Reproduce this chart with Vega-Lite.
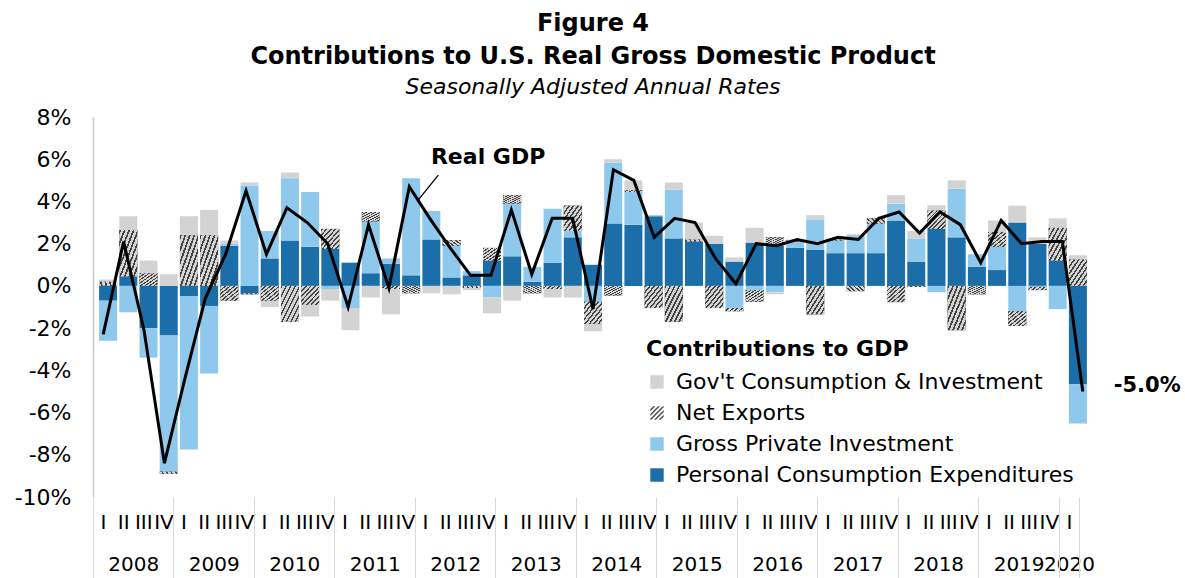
{
  "$schema": "https://vega.github.io/schema/vega-lite/v6.json",
  "width": 1000,
  "height": 380,
  "autosize": "none",
  "padding": {"left": 93, "top": 117, "right": 92, "bottom": 81},
  "background": "white",
  "config": {"font": "DejaVu Sans", "view": {"stroke": null}},
  "title": {
    "text": ["Figure 4", "Contributions to U.S. Real Gross Domestic Product"],
    "subtitle": "Seasonally Adjusted Annual Rates",
    "anchor": "middle",
    "font": "DejaVu Sans",
    "fontSize": 24,
    "fontWeight": "bold",
    "color": "black",
    "lineHeight": 33,
    "subtitleFont": "DejaVu Sans",
    "subtitleFontSize": 22,
    "subtitleFontStyle": "italic",
    "subtitleColor": "black",
    "subtitlePadding": 8,
    "offset": 8
  },
  "datasets": {
    "gdp": [
      {"quarter": 2008.125, "pce": -0.7, "gpi": -1.9, "nx": 0.2, "gov": 0.1, "gdp": -2.3},
      {"quarter": 2008.375, "pce": 0.45, "gpi": -1.25, "nx": 2.2, "gov": 0.65, "gdp": 2.1},
      {"quarter": 2008.625, "pce": -2.0, "gpi": -1.4, "nx": 0.6, "gov": 0.6, "gdp": -2.1},
      {"quarter": 2008.875, "pce": -2.35, "gpi": -6.45, "nx": -0.1, "gov": 0.55, "gdp": -8.4},
      {"quarter": 2009.125, "pce": -0.5, "gpi": -7.25, "nx": 2.4, "gov": 0.9, "gdp": -4.4},
      {"quarter": 2009.375, "pce": -0.95, "gpi": -3.2, "nx": 2.4, "gov": 1.2, "gdp": -0.6},
      {"quarter": 2009.625, "pce": 1.9, "gpi": 0.1, "nx": -0.7, "gov": 0.15, "gdp": 1.5},
      {"quarter": 2009.875, "pce": -0.35, "gpi": 4.75, "nx": -0.05, "gov": 0.15, "gdp": 4.5},
      {"quarter": 2010.125, "pce": 1.3, "gpi": 1.3, "nx": -0.7, "gov": -0.3, "gdp": 1.5},
      {"quarter": 2010.375, "pce": 2.15, "gpi": 2.95, "nx": -1.7, "gov": 0.27, "gdp": 3.7},
      {"quarter": 2010.625, "pce": 1.85, "gpi": 2.6, "nx": -0.9, "gov": -0.55, "gdp": 3.0},
      {"quarter": 2010.875, "pce": 1.75, "gpi": -0.15, "nx": 0.95, "gov": -0.55, "gdp": 2.0},
      {"quarter": 2011.125, "pce": 1.1, "gpi": -1.05, "nx": 0, "gov": -1.05, "gdp": -1.0},
      {"quarter": 2011.375, "pce": 0.6, "gpi": 2.45, "nx": 0.45, "gov": -0.55, "gdp": 2.9},
      {"quarter": 2011.625, "pce": 1.05, "gpi": 0.25, "nx": -0.15, "gov": -1.2, "gdp": -0.1},
      {"quarter": 2011.875, "pce": 0.5, "gpi": 4.6, "nx": -0.35, "gov": 0, "gdp": 4.7},
      {"quarter": 2012.125, "pce": 2.2, "gpi": 1.35, "nx": 0, "gov": -0.35, "gdp": 3.2},
      {"quarter": 2012.375, "pce": 0.4, "gpi": 1.5, "nx": 0.27, "gov": -0.4, "gdp": 1.8},
      {"quarter": 2012.625, "pce": 0.5, "gpi": 0.2, "nx": -0.1, "gov": -0.1, "gdp": 0.5},
      {"quarter": 2012.875, "pce": 1.2, "gpi": -0.55, "nx": 0.6, "gov": -0.75, "gdp": 0.5},
      {"quarter": 2013.125, "pce": 1.4, "gpi": 2.5, "nx": 0.4, "gov": -0.7, "gdp": 3.6},
      {"quarter": 2013.375, "pce": 0.2, "gpi": 0.7, "nx": -0.35, "gov": 0, "gdp": 0.55},
      {"quarter": 2013.625, "pce": 1.1, "gpi": 2.55, "nx": -0.15, "gov": -0.4, "gdp": 3.2},
      {"quarter": 2013.875, "pce": 2.3, "gpi": 0.3, "nx": 1.2, "gov": -0.55, "gdp": 3.2},
      {"quarter": 2014.125, "pce": 1.0, "gpi": -0.75, "nx": -1.05, "gov": -0.35, "gdp": -1.1},
      {"quarter": 2014.375, "pce": 2.95, "gpi": 2.9, "nx": -0.45, "gov": 0.15, "gdp": 5.5},
      {"quarter": 2014.625, "pce": 2.9, "gpi": 1.55, "nx": 0.08, "gov": 0.47, "gdp": 5.0},
      {"quarter": 2014.875, "pce": 3.3, "gpi": 0.05, "nx": -1.05, "gov": 0, "gdp": 2.3},
      {"quarter": 2015.125, "pce": 2.25, "gpi": 2.3, "nx": -1.7, "gov": 0.35, "gdp": 3.2},
      {"quarter": 2015.375, "pce": 2.1, "gpi": 0, "nx": 0.1, "gov": 0.8, "gdp": 3.0},
      {"quarter": 2015.625, "pce": 2.0, "gpi": 0, "nx": -1.05, "gov": 0.37, "gdp": 1.3},
      {"quarter": 2015.875, "pce": 1.15, "gpi": -1.05, "nx": -0.15, "gov": 0.2, "gdp": 0.1},
      {"quarter": 2016.125, "pce": 2.05, "gpi": -0.2, "nx": -0.55, "gov": 0.7, "gdp": 2.0},
      {"quarter": 2016.375, "pce": 1.9, "gpi": -0.3, "nx": 0.4, "gov": -0.1, "gdp": 1.9},
      {"quarter": 2016.625, "pce": 1.8, "gpi": 0.3, "nx": 0.05, "gov": 0.05, "gdp": 2.2},
      {"quarter": 2016.875, "pce": 1.7, "gpi": 1.45, "nx": -1.35, "gov": 0.2, "gdp": 2.0},
      {"quarter": 2017.125, "pce": 1.55, "gpi": 0.6, "nx": 0.05, "gov": 0.05, "gdp": 2.3},
      {"quarter": 2017.375, "pce": 1.55, "gpi": 0.85, "nx": -0.25, "gov": 0.05, "gdp": 2.2},
      {"quarter": 2017.625, "pce": 1.55, "gpi": 1.4, "nx": 0.25, "gov": 0, "gdp": 3.2},
      {"quarter": 2017.875, "pce": 3.1, "gpi": 0.8, "nx": -0.77, "gov": 0.4, "gdp": 3.5},
      {"quarter": 2018.125, "pce": 1.15, "gpi": 1.1, "nx": -0.05, "gov": 0.35, "gdp": 2.5},
      {"quarter": 2018.375, "pce": 2.7, "gpi": -0.3, "nx": 0.87, "gov": 0.25, "gdp": 3.5},
      {"quarter": 2018.625, "pce": 2.3, "gpi": 2.3, "nx": -2.1, "gov": 0.4, "gdp": 2.9},
      {"quarter": 2018.875, "pce": 0.9, "gpi": 0.6, "nx": -0.4, "gov": 0, "gdp": 1.1},
      {"quarter": 2019.125, "pce": 0.75, "gpi": 1.1, "nx": 0.7, "gov": 0.55, "gdp": 3.1},
      {"quarter": 2019.375, "pce": 3.0, "gpi": -1.2, "nx": -0.7, "gov": 0.8, "gdp": 2.0},
      {"quarter": 2019.625, "pce": 2.0, "gpi": -0.05, "nx": -0.15, "gov": 0.3, "gdp": 2.1},
      {"quarter": 2019.875, "pce": 1.2, "gpi": -1.1, "nx": 1.55, "gov": 0.45, "gdp": 2.1},
      {"quarter": 2020.125, "pce": -4.65, "gpi": -1.87, "nx": 1.25, "gov": 0.2, "gdp": -5.0}
    ],
    "components": [
      {"key": "pce", "name": "Personal Consumption Expenditures"},
      {"key": "gpi", "name": "Gross Private Investment"},
      {"key": "nx", "name": "Net Exports"},
      {"key": "gov", "name": "Gov't Consumption & Investment"}
    ]
  },
  "data": {"name": "gdp"},
  "layer": [
    {
      "transform": [
        {"fold": ["pce", "gpi", "nx", "gov"], "as": ["key", "value"]},
        {"lookup": "key", "from": {"data": {"name": "components"}, "key": "key", "fields": ["name"]}},
        {"stack": "value", "groupby": ["quarter"], "as": ["v0", "v1"]}
      ],
      "mark": {"type": "bar", "width": 18},
      "encoding": {
        "x": {"field": "quarter", "type": "quantitative", "scale": {"domain": [2008, 2020.25]}, "axis": null},
        "y": {
          "field": "v0", "type": "quantitative",
          "scale": {"domain": [-10, 8], "nice": false},
          "title": null,
          "axis": {
            "values": [-10, -8, -6, -4, -2, 0, 2, 4, 6, 8],
            "labelExpr": "datum.value + '%'",
            "labelFont": "DejaVu Sans",
            "labelFontSize": 22,
            "labelColor": "black",
            "labelPadding": 22,
            "labelOverlap": false,
            "labelBound": false,
            "ticks": false,
            "grid": false,
            "domainColor": "#c8c8c8",
            "domainWidth": 1.5,
            "title": null
          }
        },
        "y2": {"field": "v1"},
        "color": {
          "field": "name", "type": "nominal",
          "scale": {
            "domain": ["Gov't Consumption & Investment", "Net Exports", "Gross Private Investment", "Personal Consumption Expenditures"],
            "range": ["#d3d3d3", "#4a4a4a", "#8ec9ed", "#1c6ea9"]
          },
          "legend": {
            "orient": "none",
            "legendX": 553,
            "legendY": 222,
            "title": "Contributions to GDP",
            "titleFont": "DejaVu Sans",
            "titleFontSize": 22,
            "titleFontWeight": "bold",
            "titleColor": "black",
            "titlePadding": 10,
            "titleLimit": 600,
            "labelFont": "DejaVu Sans",
            "labelFontSize": 22,
            "labelColor": "black",
            "labelOffset": 8,
            "labelLimit": 600,
            "symbolType": "square",
            "symbolSize": 180,
            "symbolStrokeWidth": 0,
            "rowPadding": 9,
            "padding": 0,
            "encode": {
              "symbols": {
                "update": {
                  "shape": [
                    {"test": "datum.value === 'Net Exports'", "value": "M-1,-0.55L-0.55,-1L-0.25,-1L-1,-0.25ZM-1,0.15L0.15,-1L0.45,-1L-1,0.45ZM-1,0.85L0.85,-1L1,-1L1,-0.85L-0.85,1L-1,1ZM-0.45,1L1,-0.45L1,-0.15L-0.15,1ZM0.25,1L1,0.25L1,0.55L0.55,1Z"},
                    {"value": "square"}
                  ]
                }
              }
            }
          }
        }
      }
    },
    {
      "transform": [
        {"fold": ["pce", "gpi", "nx", "gov"], "as": ["key", "value"]},
        {"stack": "value", "groupby": ["quarter"], "as": ["v0", "v1"]},
        {"filter": "datum.key === 'nx'"}
      ],
      "mark": {
        "type": "bar", "width": 18,
        "fill": {
          "gradient": "linear", "x1": 0, "y1": 0, "x2": 1, "y2": 1,
          "stops": [
            {"offset": 0, "color": "#444444"}, {"offset": 0.05, "color": "#444444"}, {"offset": 0.05, "color": "#d4d4d4"}, {"offset": 0.125, "color": "#d4d4d4"},
            {"offset": 0.125, "color": "#444444"}, {"offset": 0.175, "color": "#444444"}, {"offset": 0.175, "color": "#d4d4d4"}, {"offset": 0.25, "color": "#d4d4d4"},
            {"offset": 0.25, "color": "#444444"}, {"offset": 0.3, "color": "#444444"}, {"offset": 0.3, "color": "#d4d4d4"}, {"offset": 0.375, "color": "#d4d4d4"},
            {"offset": 0.375, "color": "#444444"}, {"offset": 0.425, "color": "#444444"}, {"offset": 0.425, "color": "#d4d4d4"}, {"offset": 0.5, "color": "#d4d4d4"},
            {"offset": 0.5, "color": "#444444"}, {"offset": 0.55, "color": "#444444"}, {"offset": 0.55, "color": "#d4d4d4"}, {"offset": 0.625, "color": "#d4d4d4"},
            {"offset": 0.625, "color": "#444444"}, {"offset": 0.675, "color": "#444444"}, {"offset": 0.675, "color": "#d4d4d4"}, {"offset": 0.75, "color": "#d4d4d4"},
            {"offset": 0.75, "color": "#444444"}, {"offset": 0.8, "color": "#444444"}, {"offset": 0.8, "color": "#d4d4d4"}, {"offset": 0.875, "color": "#d4d4d4"},
            {"offset": 0.875, "color": "#444444"}, {"offset": 0.925, "color": "#444444"}, {"offset": 0.925, "color": "#d4d4d4"}, {"offset": 1, "color": "#d4d4d4"}
          ]
        }
      },
      "encoding": {
        "x": {"field": "quarter", "type": "quantitative", "scale": {"domain": [2008, 2020.25]}, "axis": null},
        "y": {"field": "v0", "type": "quantitative", "title": null},
        "y2": {"field": "v1"}
      }
    },
    {
      "mark": {"type": "line", "color": "black", "strokeWidth": 3},
      "encoding": {
        "x": {"field": "quarter", "type": "quantitative", "scale": {"domain": [2008, 2020.25]}, "axis": null},
        "y": {"field": "gdp", "type": "quantitative", "title": null}
      }
    },
    {
      "data": {"values": [{}]},
      "mark": {"type": "text", "text": "Real GDP", "font": "DejaVu Sans", "fontSize": 22, "fontWeight": "bold", "color": "black", "align": "center", "baseline": "middle"},
      "encoding": {
        "x": {"datum": 2012.84, "type": "quantitative", "scale": {"domain": [2008, 2020.25]}, "axis": null},
        "y": {"datum": 6.11, "type": "quantitative"}
      }
    },
    {
      "data": {"values": [{}]},
      "mark": {"type": "rule", "color": "black", "strokeWidth": 1.3},
      "encoding": {
        "x": {"datum": 2011.985, "type": "quantitative", "scale": {"domain": [2008, 2020.25]}, "axis": null},
        "x2": {"datum": 2012.23},
        "y": {"datum": 4.07, "type": "quantitative"},
        "y2": {"datum": 5.25}
      }
    },
    {
      "data": {"values": [{}]},
      "mark": {"type": "text", "text": "-5.0%", "font": "DejaVu Sans", "fontSize": 21, "fontWeight": "bold", "color": "black", "align": "left", "baseline": "middle", "dx": 31, "dy": -5},
      "encoding": {
        "x": {"datum": 2020.125, "type": "quantitative", "scale": {"domain": [2008, 2020.25]}, "axis": null},
        "y": {"datum": -5.0, "type": "quantitative"}
      }
    },
    {
      "mark": {"type": "point", "opacity": 0},
      "encoding": {
        "x": {
          "field": "quarter", "type": "quantitative",
          "scale": {"domain": [2008, 2020.424]},
          "axis": {
            "orient": "bottom",
            "values": [2008.125, 2008.375, 2008.625, 2008.875, 2009.125, 2009.375, 2009.625, 2009.875, 2010.125, 2010.375, 2010.625, 2010.875, 2011.125, 2011.375, 2011.625, 2011.875, 2012.125, 2012.375, 2012.625, 2012.875, 2013.125, 2013.375, 2013.625, 2013.875, 2014.125, 2014.375, 2014.625, 2014.875, 2015.125, 2015.375, 2015.625, 2015.875, 2016.125, 2016.375, 2016.625, 2016.875, 2017.125, 2017.375, 2017.625, 2017.875, 2018.125, 2018.375, 2018.625, 2018.875, 2019.125, 2019.375, 2019.625, 2019.875, 2020.125],
            "labelExpr": "['I','II','III','IV'][floor((datum.value - floor(datum.value)) * 4)]",
            "labelFont": "DejaVu Sans",
            "labelFontSize": 20,
            "labelColor": "black",
            "labelPadding": 15,
            "labelOverlap": false,
            "labelBound": false,
            "labelFlush": false,
            "ticks": false,
            "domain": false,
            "grid": false,
            "title": null
          }
        }
      }
    },
    {
      "mark": {"type": "point", "opacity": 0},
      "encoding": {
        "x": {
          "field": "quarter", "type": "quantitative",
          "scale": {"domain": [2008, 2020.424]},
          "axis": {
            "orient": "bottom",
            "values": [2008.5, 2009.5, 2010.5, 2011.5, 2012.5, 2013.5, 2014.5, 2015.5, 2016.5, 2017.5, 2018.5, 2019.5, 2020.125],
            "labelExpr": "'' + floor(datum.value)",
            "labelFont": "DejaVu Sans",
            "labelFontSize": 20,
            "labelColor": "black",
            "labelPadding": 57,
            "labelOverlap": false,
            "labelBound": false,
            "labelFlush": false,
            "ticks": false,
            "domain": false,
            "grid": false,
            "title": null
          }
        }
      }
    },
    {
      "mark": {"type": "point", "opacity": 0},
      "encoding": {
        "x": {
          "field": "quarter", "type": "quantitative",
          "scale": {"domain": [2008, 2020.424]},
          "axis": {
            "orient": "bottom",
            "values": [2008, 2009, 2010, 2011, 2012, 2013, 2014, 2015, 2016, 2017, 2018, 2019, 2020, 2020.25],
            "labels": false,
            "ticks": true,
            "tickSize": 81,
            "tickColor": "#d9d9d9",
            "tickWidth": 1,
            "domain": false,
            "grid": false,
            "title": null
          }
        }
      }
    }
  ],
  "resolve": {"scale": {"x": "independent"}, "axis": {"x": "independent"}}
}
